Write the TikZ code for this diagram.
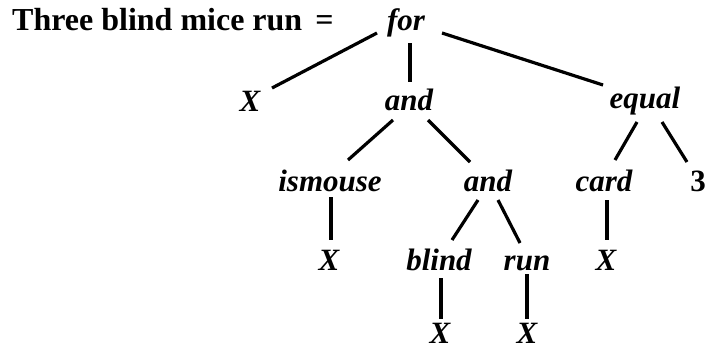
\documentclass[tikz,border=0pt]{standalone}
\usepackage{fontspec}
\setmainfont{Liberation Serif}
\begin{document}
\begin{tikzpicture}[x=1pt,y=-1pt,
  lbl/.style={inner sep=0pt,anchor=base,font=\fontsize{31}{31}\selectfont\bfseries\itshape},
  num/.style={inner sep=0pt,anchor=base,font=\fontsize{31}{31}\selectfont\bfseries},
  edge/.style={line width=3.2pt,line cap=butt}]
\useasboundingbox (0,0) rectangle (708,351);
% heading
\node[inner sep=0pt,anchor=base west,font=\fontsize{32}{32}\selectfont\bfseries] (title) at (12,30) {Three blind mice run\hspace{13pt}=};
% tree nodes
\node[lbl] (for)     at (406,30)  {for};
\node[lbl] (x1)      at (250,111) {X};
\node[lbl] (and1)    at (409,110) {and};
\node[lbl] (equal)   at (645,108) {equal};
\node[lbl] (ismouse) at (330,191) {ismouse};
\node[lbl] (and2)    at (488,191) {and};
\node[lbl] (card)    at (604,191) {card};
\node[num] (three)   at (698,191) {3};
\node[lbl] (x2)      at (329,270) {X};
\node[lbl] (blind)   at (439,270) {blind};
\node[lbl] (run)     at (527,270) {run};
\node[lbl] (x3)      at (606,270) {X};
\node[lbl] (x4)      at (440,343) {X};
\node[lbl] (x5)      at (527,343) {X};
% branches
\draw[edge] ([shift={(-29,3)}]for.base)    -- ([shift={(22,-23)}]x1.base);
\draw[edge] ([shift={(4,13)}]for.base)     -- ([shift={(1,-28)}]and1.base);
\draw[edge] ([shift={(36,3)}]for.base)     -- ([shift={(-42,-23)}]equal.base);
\draw[edge] ([shift={(-16,10)}]and1.base)  -- ([shift={(18,-31)}]ismouse.base);
\draw[edge] ([shift={(19,10)}]and1.base)   -- ([shift={(-18,-29)}]and2.base);
\draw[edge] ([shift={(-8,14)}]equal.base)  -- ([shift={(11,-31)}]card.base);
\draw[edge] ([shift={(17,14)}]equal.base)  -- ([shift={(-11,-29)}]three.base);
\draw[edge] ([shift={(1,6)}]ismouse.base)  -- ([shift={(2,-30)}]x2.base);
\draw[edge] ([shift={(-10,9)}]and2.base)   -- ([shift={(13,-30)}]blind.base);
\draw[edge] ([shift={(10,9)}]and2.base)    -- ([shift={(-7,-27)}]run.base);
\draw[edge] ([shift={(3,9)}]card.base)     -- ([shift={(1,-30)}]x3.base);
\draw[edge] ([shift={(2,8)}]blind.base)    -- ([shift={(1,-24)}]x4.base);
\draw[edge] ([shift={(0,4)}]run.base)      -- ([shift={(0,-24)}]x5.base);
\end{tikzpicture}
\end{document}
